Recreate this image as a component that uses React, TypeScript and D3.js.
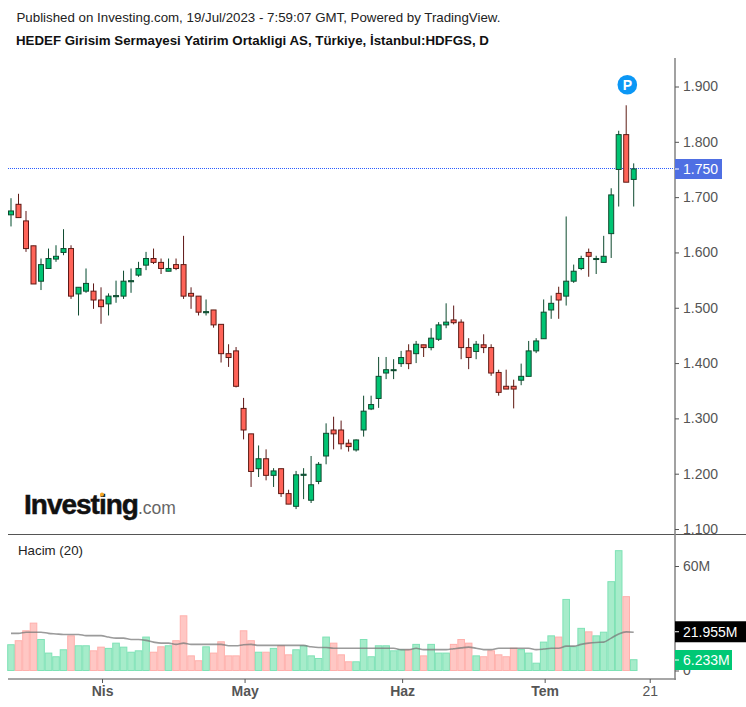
import React, { useEffect, useRef } from 'react';
import * as d3 from 'd3';

// candles (index 0 is the first visible session)
const opens = [1.668,1.687,1.657,1.612,1.548,1.571,1.588,1.600,1.607,1.525,1.530,1.530,1.514,1.507,1.520,1.521,1.547,1.559,1.577,1.589,1.582,1.566,1.578,1.578,1.526,1.521,1.491,1.496,1.470,1.417,1.422,1.318,1.272,1.209,1.227,1.197,1.209,1.164,1.141,1.197,1.152,1.186,1.232,1.279,1.279,1.255,1.243,1.279,1.317,1.336,1.382,1.387,1.399,1.422,1.417,1.433,1.428,1.443,1.469,1.478,1.474,1.428,1.421,1.433,1.428,1.383,1.358,1.358,1.369,1.376,1.422,1.444,1.496,1.526,1.521,1.548,1.571,1.600,1.588,1.582,1.634,1.750,1.813,1.732];
const closes = [1.675,1.663,1.607,1.543,1.578,1.589,1.593,1.607,1.521,1.537,1.544,1.514,1.502,1.521,1.522,1.548,1.549,1.571,1.589,1.582,1.571,1.571,1.571,1.521,1.521,1.492,1.493,1.469,1.417,1.410,1.358,1.279,1.204,1.227,1.197,1.205,1.164,1.145,1.198,1.199,1.180,1.217,1.273,1.272,1.254,1.249,1.261,1.313,1.325,1.376,1.388,1.388,1.410,1.399,1.434,1.428,1.445,1.469,1.474,1.473,1.428,1.410,1.434,1.428,1.382,1.347,1.353,1.353,1.376,1.422,1.440,1.492,1.508,1.514,1.548,1.566,1.589,1.593,1.589,1.593,1.704,1.813,1.727,1.751];
const highs = [1.698,1.706,1.675,1.612,1.589,1.607,1.613,1.642,1.613,1.537,1.571,1.544,1.537,1.526,1.549,1.567,1.571,1.583,1.601,1.607,1.589,1.589,1.589,1.630,1.537,1.521,1.515,1.496,1.470,1.434,1.429,1.337,1.272,1.251,1.244,1.210,1.209,1.171,1.205,1.210,1.232,1.221,1.291,1.303,1.296,1.262,1.262,1.341,1.341,1.411,1.411,1.407,1.422,1.434,1.440,1.433,1.463,1.474,1.508,1.504,1.479,1.445,1.440,1.452,1.434,1.388,1.388,1.370,1.399,1.440,1.445,1.515,1.522,1.538,1.665,1.578,1.594,1.607,1.594,1.630,1.716,1.820,1.866,1.761];
const lows = [1.647,1.663,1.601,1.543,1.532,1.571,1.583,1.595,1.516,1.486,1.527,1.498,1.471,1.486,1.509,1.516,1.527,1.556,1.568,1.579,1.561,1.566,1.568,1.516,1.498,1.486,1.486,1.464,1.401,1.393,1.356,1.262,1.176,1.194,1.188,1.176,1.158,1.145,1.136,1.154,1.147,1.181,1.217,1.244,1.244,1.240,1.240,1.267,1.315,1.319,1.371,1.371,1.393,1.389,1.400,1.411,1.423,1.440,1.463,1.470,1.407,1.389,1.407,1.418,1.377,1.341,1.353,1.318,1.360,1.376,1.418,1.444,1.480,1.480,1.504,1.545,1.568,1.556,1.561,1.582,1.590,1.683,1.727,1.683];

// volume in millions and its 20 day average
const volumes = [14.8,17.1,22.8,27.2,17.8,10,7.9,11.9,19.9,14.2,14.2,11.3,13.4,12.7,15.7,13.4,10.5,11.3,19.2,10.5,13.6,14.2,17.1,31.4,8.4,5.6,13.6,10,16.5,8.4,8.4,22.8,17.1,10.5,10.5,12.7,14.2,9,11.9,14.2,8.4,6.9,19.2,15.7,9,5,5,17.8,7.9,14.2,14.2,11.3,11.9,11.9,15,8.4,15,10,10,15,17.8,15.7,8.4,7.9,11.3,9,7.9,12.8,12,10,4.2,16.3,19.9,19.2,40.8,13.6,24.2,22.2,19.9,22,51,68.8,42.4,6.2];
const volumeMa = [21.3,21.3,22,22,22,21.3,21,20.7,20.7,20.7,20,20,20,19.2,18.6,18.6,17.8,17.8,17.3,16.3,15.7,15.7,15,15.7,15,15,15,15,15,14.2,14.2,14.8,15,14.4,14.4,14.4,14.4,14.4,14.4,14.4,13.6,13.2,13.2,12.8,12.8,12.8,12.8,12.8,12.8,12.8,12.8,12.8,12,12,12.8,12,12,12,12,12.5,13,13.4,12.8,12,12,12.8,12.8,12.8,12.8,12.8,12,12.3,12.8,12.8,14,14,15,15.7,16.1,16.3,18.6,21,22.2,21.955];

const priceTicks = [1.1,1.2,1.3,1.4,1.5,1.6,1.7,1.8,1.9];
const volumeTicks = [0,60];
const timeTicks = [12,31,52,71,85];
const timeLabels = ['Nis','May','Haz','Tem','21'];

const lastPrice = 1.75;

const App = () => {
  const chartRef = useRef<SVGSVGElement | null>(null);

  useEffect(() => {
    const width = 746, height = 707;
    const plotLeft = 8, plotRight = 675;
    const FONT = '"Liberation Sans", Arial, sans-serif';
    const AXIS_TEXT = '#555555';
    const FRAME = '#8a8a8a';

    const svg = d3.select(chartRef.current);
    svg.selectAll('*').remove();

    // the reference is a slightly soft screenshot
    svg.append('defs').append('filter').attr('id', 'soft')
      .append('feGaussianBlur').attr('stdDeviation', 0.35);

    const x = d3.scaleLinear().domain([0, 83]).range([11, 633.7]);
    const y = d3.scaleLinear().domain([1.1, 1.9]).range([529, 86.5]);
    const v = d3.scaleLinear().domain([0, 60]).range([670.5, 566]);

    // header
    svg.append('text').attr('x', 16.5).attr('y', 22)
      .attr('font-size', 13.3).attr('fill', '#222').text('Published on Investing.com, 19/Jul/2023 - 7:59:07 GMT, Powered by TradingView.');
    svg.append('text').attr('x', 16).attr('y', 45)
      .attr('font-size', 13.3).attr('font-weight', 'bold').attr('fill', '#111')
      .text('HEDEF Girisim Sermayesi Yatirim Ortakligi AS, Türkiye, İstanbul:HDFGS, D');

    // volume bars
    svg.append('g').attr('filter', 'url(#soft)').selectAll('rect').data(volumes).join('rect')
      .attr('x', (d, i) => x(i) - 3.3)
      .attr('width', 6.6)
      .attr('y', d => v(d))
      .attr('height', d => v(0) - v(d))
      .attr('fill', (d, i) => closes[i] >= opens[i] ? '#a6ecca' : '#ffc7c4')
      .attr('stroke', (d, i) => closes[i] >= opens[i] ? '#7fe2b6' : '#ffb0ac')
      .attr('stroke-width', 1);

    const maLine = d3.line<number>().x((d, i) => x(i)).y(d => v(d)).curve(d3.curveMonotoneX);
    svg.append('path').attr('d', maLine(volumeMa))
      .attr('fill', 'none').attr('stroke', '#7a7a7a').attr('stroke-opacity', 0.75).attr('stroke-width', 1.6);

    // last price line
    const lastY = Math.round(y(lastPrice)) - 0.5;
    svg.append('line')
      .attr('x1', plotLeft).attr('x2', plotRight)
      .attr('y1', lastY).attr('y2', lastY)
      .attr('stroke', '#2a5cff').attr('stroke-width', 1).attr('stroke-dasharray', '1 1');

    // candles
    const candles = svg.append('g').attr('filter', 'url(#soft)').selectAll('g').data(opens).join('g');
    candles.append('line')
      .attr('x1', (d, i) => x(i)).attr('x2', (d, i) => x(i))
      .attr('y1', (d, i) => y(highs[i])).attr('y2', (d, i) => y(lows[i]))
      .attr('stroke', (d, i) => closes[i] >= opens[i] ? '#0d4a2f' : '#5e1a14')
      .attr('stroke-width', 1);
    candles.append('rect')
      .attr('x', (d, i) => x(i) - 2.5)
      .attr('width', 5)
      .attr('y', (d, i) => y(Math.max(opens[i], closes[i])))
      .attr('height', (d, i) => Math.max(1, Math.abs(y(opens[i]) - y(closes[i]))))
      .attr('fill', (d, i) => closes[i] >= opens[i] ? '#00c473' : '#ff6459')
      .attr('stroke', (d, i) => closes[i] >= opens[i] ? '#0d4a2f' : '#5e1a14')
      .attr('stroke-width', 1);

    // P badge
    svg.append('circle').attr('cx', 627.3).attr('cy', 84.7).attr('r', 9.8).attr('fill', '#0b97f5');
    svg.append('text').attr('x', 627.3).attr('y', 89.7).attr('text-anchor', 'middle')
      .attr('font-size', 14).attr('font-weight', 'bold').attr('fill', '#fff').text('P');

    // logo
    const logo = svg.append('text').attr('x', 24).attr('y', 514);
    logo.append('tspan').attr('font-size', 28).attr('font-weight', 'bold').attr('letter-spacing', -1)
      .attr('fill', '#111').attr('stroke', '#111').attr('stroke-width', 0.5).text('Investing');
    logo.append('tspan').attr('font-size', 17.5).attr('fill', '#666').text('.com');
    svg.append('circle').attr('cx', 102).attr('cy', 494.5).attr('r', 2).attr('fill', '#f5a623');

    // frame
    const frame = svg.append('g');
    frame.append('line').attr('x1', plotLeft).attr('x2', width).attr('y1', 534.5).attr('y2', 534.5)
      .attr('stroke', '#555555');
    frame.append('line').attr('x1', plotLeft).attr('x2', plotRight + 1).attr('y1', 679).attr('y2', 679)
      .attr('stroke', FRAME).attr('stroke-width', 1.6);
    frame.append('line').attr('x1', 675).attr('x2', 675).attr('y1', 58).attr('y2', 680)
      .attr('stroke', FRAME).attr('stroke-width', 1.6);

    svg.append('text').attr('x', 18).attr('y', 555)
      .attr('font-size', 13.3).attr('fill', '#222').text('Hacim (20)');

    // axes
    const styleAxis = g => {
      g.select('.domain').remove();
      g.selectAll('.tick line').attr('stroke', AXIS_TEXT);
      g.selectAll('.tick text').attr('fill', AXIS_TEXT).attr('font-size', 14).attr('font-family', FONT);
    };

    svg.append('g').attr('transform', `translate(${plotRight},0)`)
      .call(d3.axisRight(y).tickValues(priceTicks).tickFormat(d3.format('.3f')).tickSize(4).tickPadding(4))
      .call(styleAxis);

    svg.append('g').attr('transform', `translate(${plotRight},0)`)
      .call(d3.axisRight(v).tickValues(volumeTicks).tickFormat(d => d === 0 ? '0' : `${d}M`).tickSize(4).tickPadding(4))
      .call(styleAxis);

    svg.append('g').attr('transform', 'translate(1,679)')
      .call(d3.axisBottom(x).tickValues(timeTicks).tickFormat((d, i) => timeLabels[i]).tickSize(4).tickPadding(3))
      .call(styleAxis)
      .call(g => g.selectAll('.tick text')
        .attr('font-weight', (d, i) => timeLabels[i] === '21' ? 'normal' : 'bold'));

    // value tags on the right
    const tag = (yPos, w, h, fill, label) => {
      svg.append('rect').attr('x', plotRight).attr('y', yPos - h / 2).attr('width', w).attr('height', h).attr('fill', fill);
      svg.append('line').attr('x1', plotRight).attr('x2', plotRight + 4).attr('y1', yPos).attr('y2', yPos).attr('stroke', '#fff');
      svg.append('text').attr('x', plotRight + 8).attr('y', yPos + 5)
        .attr('font-size', 14).attr('fill', '#fff').text(label);
    };
    tag(lastY + 0.5, 47, 20, '#4f6fe3', d3.format('.3f')(lastPrice));
    tag(v(volumeMa[83]) - 0.5, 71, 21, '#000000', `${d3.format('.3f')(volumeMa[83])}M`);
    tag(660, 57, 20, '#00c875', `${d3.format('.3f')(6.233)}M`);

    svg.attr('font-family', FONT).attr('width', width).attr('height', height);
  }, []);

  return <svg ref={chartRef} width={746} height={707} style={{ position: 'absolute', left: 0, top: 0, background: '#fff' }} />;
};

export default App;
